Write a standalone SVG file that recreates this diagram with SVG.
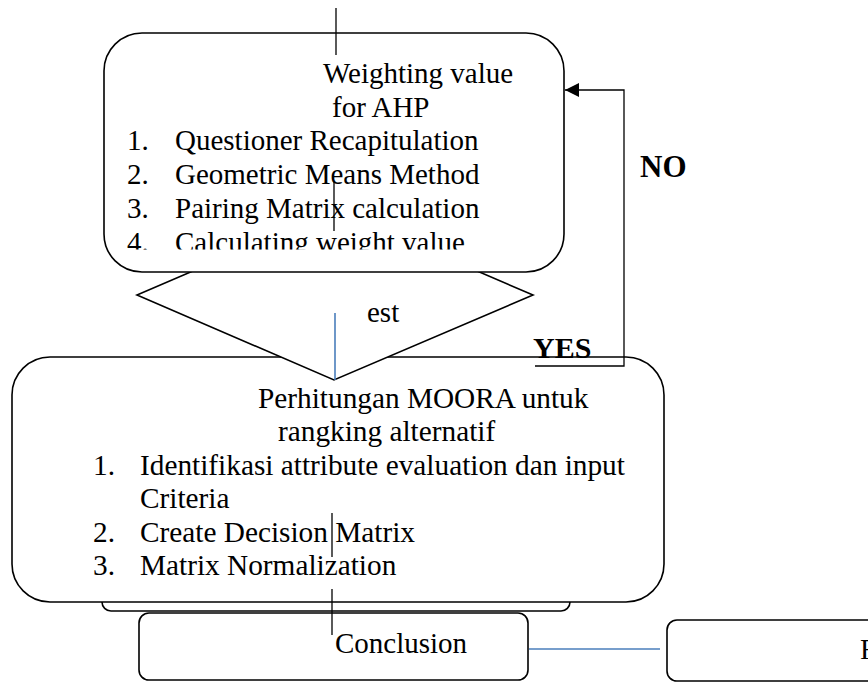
<svg xmlns="http://www.w3.org/2000/svg" width="868" height="682" viewBox="0 0 868 682">
  <defs>
    <style>
      .box { fill: #fff; stroke: #000; stroke-width: 1.6; }
      .ln { fill: none; stroke: #000; stroke-width: 1.3; }
      .blue { fill: none; stroke: #4a7ebb; stroke-width: 1.6; }
      .t { font-family: "Liberation Serif", "Times New Roman", serif; font-size: 29px; fill: #000; }
      .t2 { font-family: "Liberation Serif", "Times New Roman", serif; font-size: 29.3px; fill: #000; }
      .b { font-family: "Liberation Serif", "Times New Roman", serif; font-weight: bold; fill: #000; }
    </style>
    <marker id="arrow" viewBox="0 0 10 10" refX="10" refY="5" markerWidth="14" markerHeight="14" markerUnits="userSpaceOnUse" orient="auto">
      <path d="M0,0 L10,5 L0,10 z" fill="#000"/>
    </marker>
    <clipPath id="clipTop">
      <rect x="100" y="30" width="470" height="219.5"/>
    </clipPath>
  </defs>

  <!-- lower stack: backing card, conclusion, result -->
  <g id="backing">
    <rect class="box" x="102" y="560" width="468" height="51" rx="9"/>
  </g>
  <g id="conclusion">
    <rect class="box" x="139" y="613" width="389" height="67" rx="10"/>
    <text class="t" x="335" y="653">Conclusion</text>
  </g>
  <g id="result">
    <rect class="box" x="667" y="620" width="240" height="61" rx="10"/>
    <text class="t" x="860" y="659">F</text>
  </g>

  <!-- MOORA calculation -->
  <g id="moora">
    <rect class="box" x="12" y="357" width="652" height="245" rx="38"/>
    <text class="t2" x="258" y="408">Perhitungan MOORA untuk</text>
    <text class="t2" x="278" y="441">rangking alternatif</text>
    <text class="t2" x="93" y="475">1.</text>
    <text class="t2" x="140" y="475">Identifikasi attribute evaluation dan input</text>
    <text class="t2" x="140" y="508">Criteria</text>
    <text class="t2" x="93" y="542">2.</text>
    <text class="t2" x="140" y="542">Create Decision Matrix</text>
    <text class="t2" x="93" y="575">3.</text>
    <text class="t2" x="140" y="575">Matrix Normalization</text>
  </g>

  <!-- decision -->
  <g id="decision">
    <polygon class="box" points="335,210 533,295 334,380 137,295"/>
    <text class="t" x="367" y="322">est</text>
  </g>

  <!-- AHP weighting -->
  <g id="ahp">
    <rect class="box" x="104" y="33" width="460" height="239" rx="38"/>
    <g clip-path="url(#clipTop)">
      <text class="t" x="323" y="83">Weighting value</text>
      <text class="t" x="332" y="117">for AHP</text>
      <text class="t" x="127" y="150">1.</text>
      <text class="t" x="175" y="150">Questioner Recapitulation</text>
      <text class="t" x="127" y="184">2.</text>
      <text class="t" x="175" y="184">Geometric Means Method</text>
      <text class="t" x="127" y="218">3.</text>
      <text class="t" x="175" y="218">Pairing Matrix calculation</text>
      <text class="t" x="127" y="252">4.</text>
      <text class="t" x="175" y="252">Calculating weight value</text>
    </g>
  </g>

  <!-- connectors -->
  <g id="connectors">
    <line class="ln" x1="336" y1="8" x2="336" y2="55"/>
    <line class="ln" x1="334" y1="182" x2="334" y2="231"/>
    <line class="blue" x1="335" y1="313" x2="335" y2="380"/>
    <line class="ln" x1="332" y1="513" x2="332" y2="557"/>
    <line class="ln" x1="332" y1="589" x2="332" y2="635"/>
    <line class="blue" x1="529" y1="649" x2="660" y2="649"/>
    <path class="ln" d="M535,366 H624 V90 H565" marker-end="url(#arrow)"/>
    <text class="b" x="533" y="358" font-size="30">YES</text>
    <text class="b" x="640" y="177" font-size="31">NO</text>
  </g>
</svg>
